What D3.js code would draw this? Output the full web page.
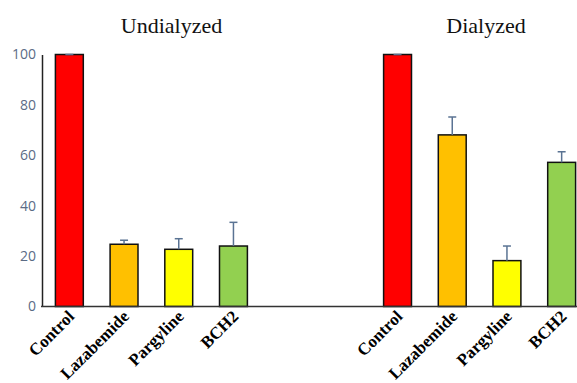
<!DOCTYPE html>
<html><head><meta charset="utf-8">
<script src="https://cdn.jsdelivr.net/npm/d3@7"></script>
<style>body{margin:0;background:#fff}svg{display:block}</style>
</head><body><svg id="c" width="577" height="383"></svg>
<script>
const groups = ["Undialyzed", "Dialyzed"];
const categories = ["Control", "Lazabemide", "Pargyline", "BCH2"];
const undialyzed = [100, 24.7, 22.7, 24.0];
const undialyzedErr = [0, 1.6, 4.2, 9.4];
const dialyzed = [100, 68.1, 18.2, 57.2];
const dialyzedErr = [0, 7.1, 5.8, 4.2];
const colors = ["#ff0000", "#ffc000", "#ffff00", "#92d050"];
const yTicks = [0, 20, 40, 60, 80, 100];

const svg = d3.select("#c");
const slots = [];
categories.forEach((c, i) => slots.push({g: 0, i, key: "u" + i}));
slots.push({key: "gap1"}, {key: "gap2"});
categories.forEach((c, i) => slots.push({g: 1, i, key: "d" + i}));

const x = d3.scaleBand().domain(slots.map(s => s.key)).range([42, 589]).paddingInner(0.49).paddingOuter(0.245);
const y = d3.scaleLinear().domain([0, 100]).range([306.5, 54.5]);

const data = [];
[undialyzed, dialyzed].forEach((vals, g) => {
  const errs = g === 0 ? undialyzedErr : dialyzedErr;
  vals.forEach((v, i) => data.push({g, i, key: (g === 0 ? "u" : "d") + i, v, e: errs[i], cat: categories[i]}));
});

// y axis
const yAxis = d3.axisLeft(y).tickValues(yTicks).tickSize(0).tickPadding(6);
const ya = svg.append("g").attr("transform", "translate(42,0)").call(yAxis);
ya.select(".domain").attr("stroke", "#222").attr("stroke-width", 1.5);
ya.selectAll("text").attr("fill", "#5b6b85").style("font-family", "'Open Sans', sans-serif").style("font-size", "14px");

// bars
svg.append("g").selectAll("rect").data(data).join("rect")
  .attr("x", d => x(d.key)).attr("width", x.bandwidth())
  .attr("y", d => y(d.v)).attr("height", d => y(0) - y(d.v))
  .attr("fill", d => colors[d.i]).attr("stroke", "#111").attr("stroke-width", 1.5);

// error bars
const eb = svg.append("g").attr("stroke", "#5a7393").attr("stroke-width", 1.5);
data.forEach(d => {
  const cx = x(d.key) + x.bandwidth() / 2;
  if (d.e > 0) eb.append("line").attr("x1", cx).attr("x2", cx).attr("y1", y(d.v)).attr("y2", y(d.v + d.e));
  eb.append("line").attr("x1", cx - 4).attr("x2", cx + 4).attr("y1", y(d.v + d.e)).attr("y2", y(d.v + d.e));
});

// x axis line
svg.append("line").attr("x1", 41).attr("x2", 577).attr("y1", y(0)).attr("y2", y(0))
  .attr("stroke", "#333").attr("stroke-width", 1.5);

// x labels
svg.append("g").selectAll("text").data(data).join("text")
  .attr("transform", d => `translate(${x(d.key) + x.bandwidth() / 2 + 6},${y(0) + 11}) rotate(-45)`)
  .attr("text-anchor", "end")
  .style("font-family", "'Liberation Serif', 'Times New Roman', serif")
  .style("font-weight", "bold").style("font-size", "17px").attr("fill", "#000")
  .text(d => d.cat);

// titles
const titleX = [171.5, 486];
svg.append("g").selectAll("text").data(groups).join("text")
  .attr("x", (d, i) => titleX[i]).attr("y", 33)
  .attr("text-anchor", "middle")
  .style("font-family", "'Liberation Serif', 'Times New Roman', serif")
  .style("font-size", "22px").attr("fill", "#111")
  .text(d => d);
</script></body></html>
